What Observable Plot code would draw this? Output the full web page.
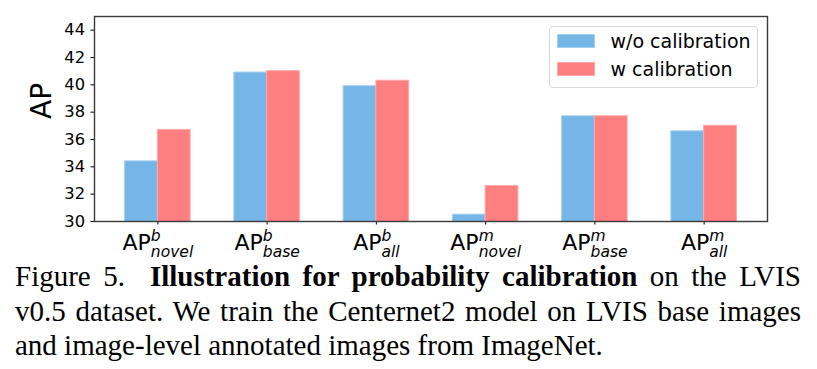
<!DOCTYPE html>
<html><head><meta charset="utf-8">
<script src="https://cdn.jsdelivr.net/npm/d3@7"></script>
<script src="https://cdn.jsdelivr.net/npm/@observablehq/plot@0.6"></script>
<style>
body{margin:0;background:#fff;}
#wrap{position:relative;width:817px;}
#wrap svg g[aria-label="y-axis tick label"] text{font-size:16.3px !important;font-family:"DejaVu Sans" !important;}
#legend{position:absolute;left:548.5px;top:25.5px;width:209px;height:62px;box-sizing:border-box;border:1px solid #d9d9d9;border-radius:4px;background:rgba(255,255,255,0.8);font-family:"DejaVu Sans";font-size:19px;padding:0.5px 0 0 7px;color:#000;}
.row{display:flex;align-items:center;height:28px;}
.sw{width:38px;height:14px;margin-right:16px;box-sizing:border-box;}
#caption{font-family:"Liberation Serif";font-size:29px;line-height:34.3px;text-align:justify;margin:-0.6px 0 0 15px;width:786px;color:#000;}
</style></head>
<body>
<div id="wrap"><div id="legend"></div></div>
<div id="caption">Figure 5.&nbsp; <b>Illustration for probability calibration</b> on the LVIS v0.5 dataset. We train the Centernet2 model on LVIS base images and image-level annotated images from ImageNet.</div>
<script>
const superscripts = ["b", "b", "b", "m", "m", "m"];
const subscripts = ["novel", "base", "all", "novel", "base", "all"];
const seriesNames = ["w/o calibration", "w calibration"];
const woCalibration = [34.4, 40.9, 39.9, 30.5, 37.7, 36.6];
const wCalibration = [36.7, 41.0, 40.3, 32.6, 37.7, 37.0];
const yTicks = [30, 32, 34, 36, 38, 40, 42, 44];
const colors = ["#75b6e7", "#fe7f7f"];
const edgeColors = ["#a6d0f0", "#ffa9a9"];
const barWidth = 0.3;

const rows = [];
[woCalibration, wCalibration].forEach((vals, s) => {
  vals.forEach((v, i) => rows.push({i, s, series: seriesNames[s], value: v}));
});

const chart = Plot.plot({
  width: 817,
  height: 260,
  marginTop: 16,
  marginLeft: 94,
  marginRight: 50,
  marginBottom: 39,
  style: {fontFamily: "DejaVu Sans", fontSize: "16px", color: "#000", background: "transparent"},
  x: {domain: [-0.58, 5.58]},
  y: {domain: [30, 45]},
  marks: [
    Plot.rectY(rows, {
      x1: d => d.i + (d.s - 1) * barWidth,
      x2: d => d.i + d.s * barWidth,
      y: "value",
      fill: d => colors[d.s],
      stroke: d => edgeColors[d.s],
      strokeWidth: 1,
      clip: true
    }),
    Plot.axisY({ticks: yTicks, tickSize: 3.5, tickPadding: 6, label: null}),
    Plot.axisX({ticks: d3.range(subscripts.length), tickSize: 3.5, tickFormat: d => String(d), label: null}),
    Plot.text(["AP"], {frameAnchor: "left", dx: -52, rotate: -90, fontSize: 28, fill: "#000"}),
    Plot.frame({stroke: "#3a3a3a", strokeWidth: 1.4})
  ]
});
const wrap = document.getElementById("wrap");
wrap.prepend(chart);

// rich x tick labels
const ns = "http://www.w3.org/2000/svg";
function mk(txt, attrs) {
  const el = document.createElementNS(ns, "tspan");
  el.textContent = txt;
  for (const k in attrs) el.setAttribute(k, attrs[k]);
  return el;
}
chart.querySelectorAll('g[aria-label="x-axis tick label"] text').forEach(t => {
  const i = Number(t.textContent);
  const ctm = t.getCTM();
  t.textContent = "";
  t.removeAttribute("dy");
  t.setAttribute("y", 250 - ctm.f);
  t.setAttribute("text-anchor", "start");
  t.setAttribute("fill", "#000");
  const main = mk("AP", {"font-size": 22});
  const sup = mk(superscripts[i], {"font-size": 15.5, "font-style": "italic", dy: -9});
  t.append(main, sup);
  const mainW = main.getComputedTextLength();
  const supW = sup.getComputedTextLength();
  const sub = mk(subscripts[i], {"font-size": 15.5, "font-style": "italic", dy: 15.7, dx: -supW});
  t.append(sub);
  const subW = sub.getComputedTextLength();
  const total = mainW + Math.max(supW, subW);
  t.setAttribute("x", -total / 2);
});

// legend
const legend = document.getElementById("legend");
seriesNames.forEach((name, s) => {
  const r = document.createElement("div");
  r.className = "row";
  const sw = document.createElement("div");
  sw.className = "sw";
  sw.style.background = colors[s];
  sw.style.border = "1px solid " + edgeColors[s];
  const lb = document.createElement("span");
  lb.textContent = name;
  r.append(sw, lb);
  legend.append(r);
});
</script>
</body></html>
